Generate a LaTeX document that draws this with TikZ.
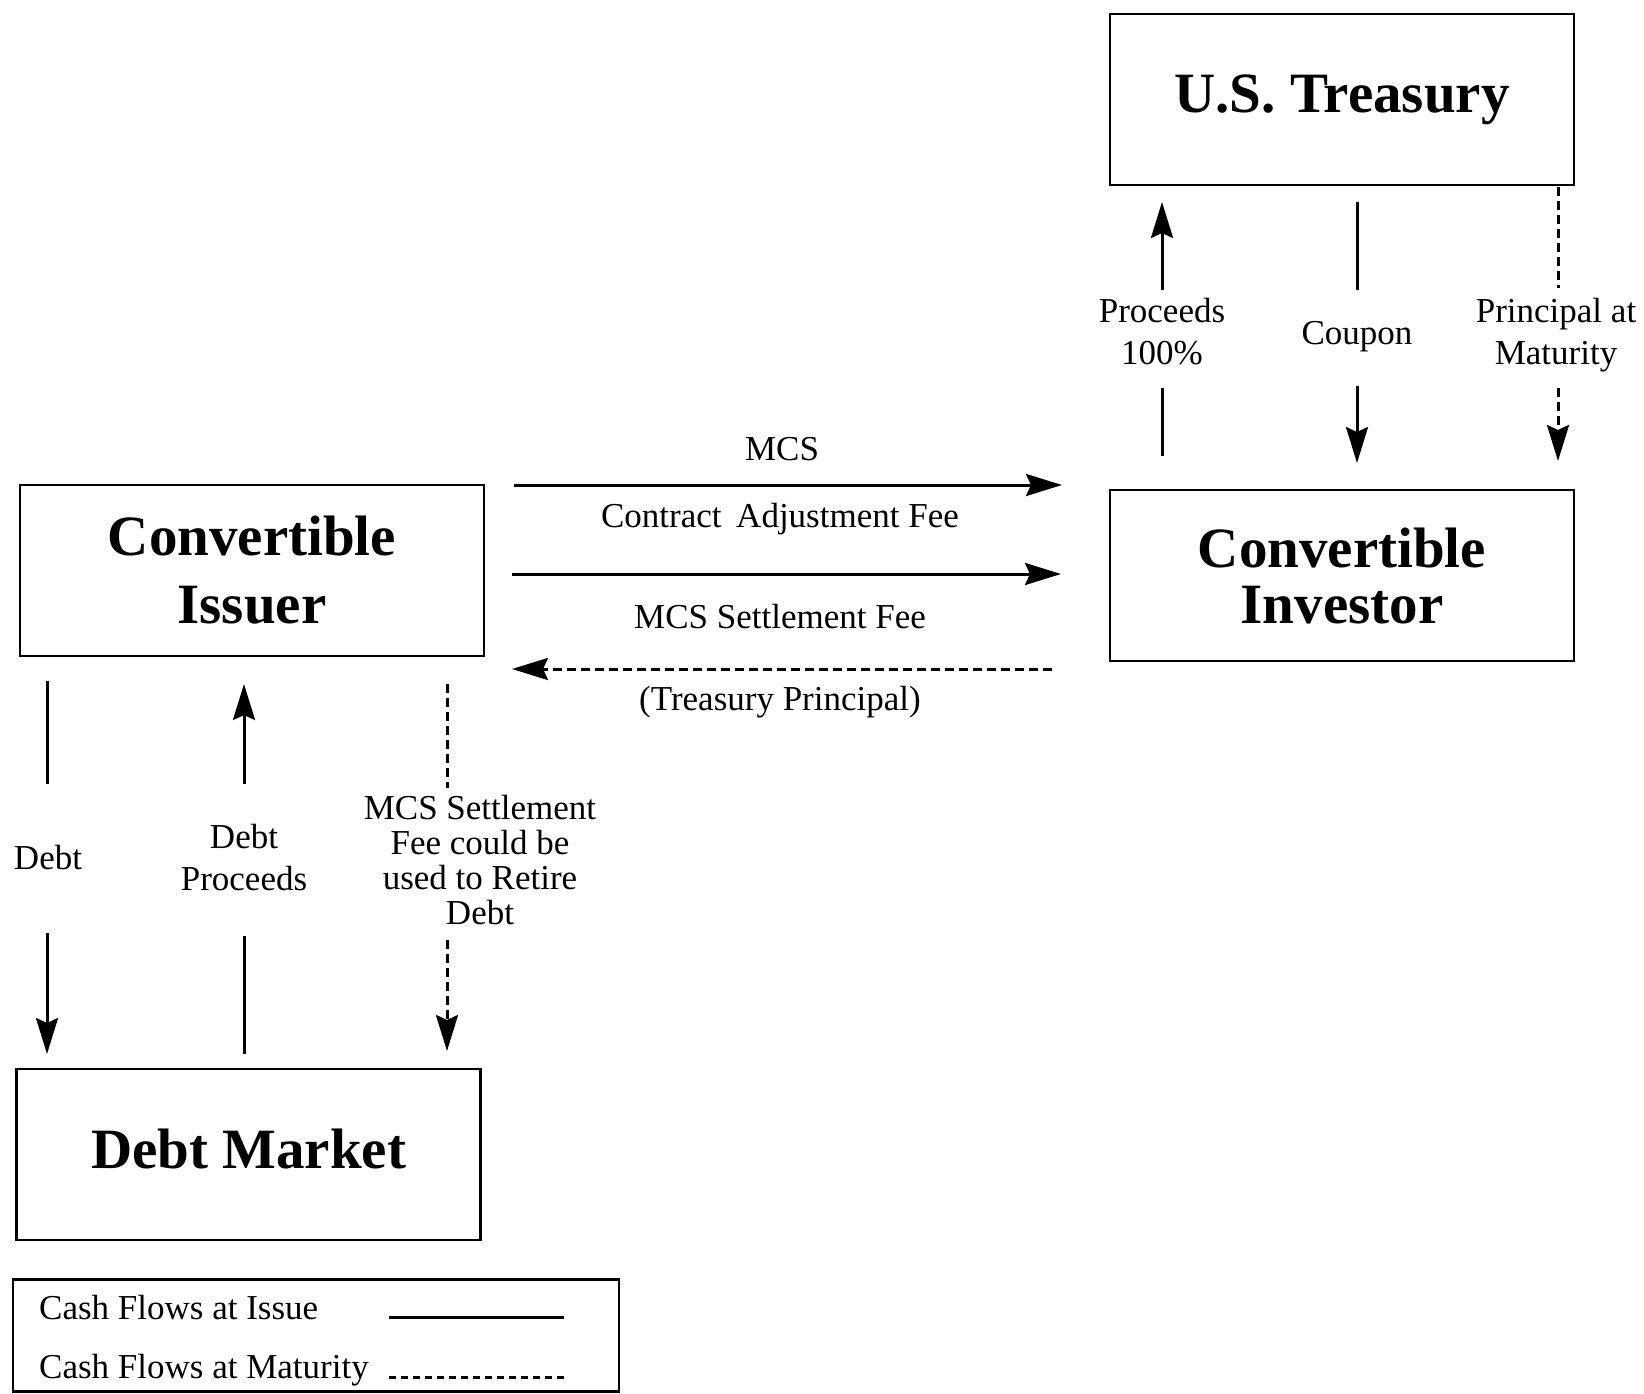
\documentclass[tikz,border=0pt]{standalone}
\usepackage{fontspec}
\setmainfont{Liberation Serif}
\usetikzlibrary{arrows.meta}

\begin{document}
\begin{tikzpicture}[x=1pt,y=-1pt,
  box/.style={draw,line width=2.8pt,minimum width=464pt,minimum height=171pt,
    inner sep=0pt,align=center,font=\bfseries\fontsize{57}{68}\selectfont},
  lbl/.style={align=center,inner sep=0pt,font=\fontsize{35}{42}\selectfont},
  flow/.style={line width=3pt},
  later/.style={flow,dash pattern=on 9pt off 5pt},
  tip/.style={-{Stealth[length=36pt,width=22pt,inset=5pt]}}]
  \useasboundingbox (0,0) rectangle (1644,1394);
  % parties
  \node[box] (treasury) at (1342,99.5) {U.S. Treasury};
  \node[box] (issuer) at (252,570.5) {Convertible\\Issuer};
  \node[box,font=\bfseries\fontsize{57}{56}\selectfont] (investor) at (1342,575.5) {Convertible\\Investor};
  \node[box] (market) at (248.5,1154.5) {};
  \node[font=\bfseries\fontsize{57}{68}\selectfont] (marketname) at (248.5,1149) {Debt Market};
  % labels between issuer and investor
  \node[lbl] (mcs) at (782,449) {MCS};
  \node[lbl] (caf) at (780,519) {Contract\, Adjustment Fee};
  \node[lbl] (fee) at (780,617) {MCS Settlement Fee};
  \node[lbl] (tprin) at (780,702) {(Treasury Principal)};
  % labels below treasury
  \node[lbl] (proc) at (1162,332) {Proceeds\\100\%};
  \node[lbl] (coupon) at (1357,337) {Coupon};
  \node[lbl] (prin) at (1556,335) {Principal at\\Maturity};
  % labels below issuer
  \node[lbl] (debt) at (48,858) {Debt};
  \node[lbl] (dproc) at (244,858) {Debt\\Proceeds};
  \node[lbl,font=\fontsize{35}{35}\selectfont] (retire) at (480,860) {MCS Settlement\\Fee could be\\used to Retire\\Debt};
  % horizontal flows
  \coordinate (m1) at (514,485);  \coordinate (m2) at (1062,485);
  \coordinate (c1) at (512,574);  \coordinate (c2) at (1061,574);
  \coordinate (t1) at (1052,669); \coordinate (t2) at (512,669);
  \draw[flow,tip] (m1) -- (m2);
  \draw[flow,tip] (c1) -- (c2);
  \draw[later,tip] (t1) -- (t2);
  % treasury column
  \coordinate (p1) at (1162,456); \coordinate (p2) at (1162,388);
  \coordinate (p3) at (1162,290); \coordinate (p4) at (1162,202);
  \draw[flow] (p1) -- (p2);
  \draw[flow,tip] (p3) -- (p4);
  \coordinate (k1) at (1357,202); \coordinate (k2) at (1357,290);
  \coordinate (k3) at (1357,386); \coordinate (k4) at (1357,463);
  \draw[flow] (k1) -- (k2);
  \draw[flow,tip] (k3) -- (k4);
  \coordinate (r1) at (1558,187); \coordinate (r2) at (1558,288);
  \coordinate (r3) at (1558,388); \coordinate (r4) at (1558,461);
  \draw[later] (r1) -- (r2);
  \draw[later,tip] (r3) -- (r4);
  % debt column
  \coordinate (d1) at (47,681);  \coordinate (d2) at (47,784);
  \coordinate (d3) at (47,933);  \coordinate (d4) at (47,1054);
  \draw[flow] (d1) -- (d2);
  \draw[flow,tip] (d3) -- (d4);
  \coordinate (e1) at (244,1054); \coordinate (e2) at (244,936);
  \coordinate (e3) at (244,784);  \coordinate (e4) at (244,684);
  \draw[flow] (e1) -- (e2);
  \draw[flow,tip] (e3) -- (e4);
  \coordinate (s1) at (447,684); \coordinate (s2) at (447,788);
  \coordinate (s3) at (447,940); \coordinate (s4) at (447,1051);
  \draw[later] (s1) -- (s2);
  \draw[later,tip] (s3) -- (s4);
  % legend
  \node[draw,line width=2.8pt,minimum width=606pt,minimum height=112pt,inner sep=0pt] (legend) at (316,1335.5) {};
  \node[lbl,anchor=west] (issue) at (39,1308) {Cash Flows at Issue};
  \node[lbl,anchor=west] (matur) at (39,1370) {Cash Flows at Maturity};
  \coordinate (l1) at (389,1317); \coordinate (l2) at (564,1317);
  \coordinate (l3) at (389,1377); \coordinate (l4) at (566,1377);
  \draw[flow] (l1) -- (l2);
  \draw[flow,dash pattern=on 7pt off 5pt] (l3) -- (l4);
\end{tikzpicture}
\end{document}
